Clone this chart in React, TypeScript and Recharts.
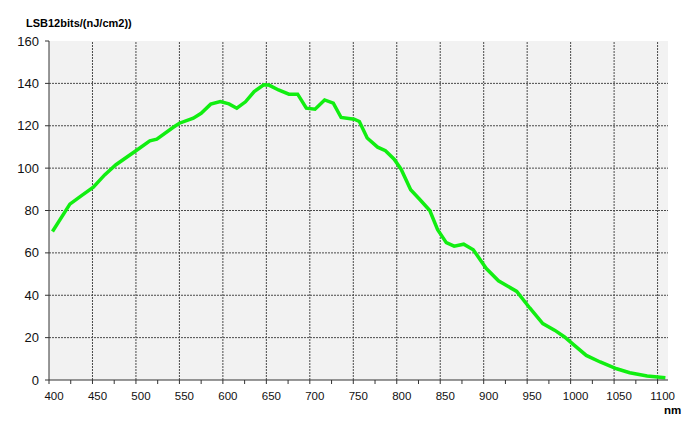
import { LineChart, Line, XAxis, YAxis, CartesianGrid, ReferenceLine } from 'recharts'

// wavelength (nm) and responsivity (LSB12bits/(nJ/cm2))
const wavelengths = [
  404, 424, 437, 451, 464, 477, 500, 516, 524, 543, 550, 566, 575, 586, 597,
  607, 616, 626, 636, 647, 653, 664, 676, 686, 696, 706, 717, 727, 736, 751,
  757, 766, 778, 787, 797, 805, 816, 826, 838, 847, 857, 866, 877, 888, 903,
  917, 938, 953, 968, 982, 993, 1003, 1018, 1034, 1053, 1068, 1088, 1109,
]
const responsivity = [
  70.1, 83.0, 86.9, 91.0, 96.8, 101.6, 108.2, 112.9, 113.7, 119.3, 121.2, 123.6, 125.9, 130.2, 131.4,
  130.3, 128.3, 131.3, 136.1, 139.3, 139.2, 136.9, 134.9, 134.9, 128.3, 127.8, 132.2, 130.7, 123.9, 123.1,
  122.0, 114.2, 109.9, 108.2, 104.2, 99.5, 89.8, 85.4, 80.0, 70.9, 64.8, 63.2, 64.1, 61.5, 52.6,
  46.8, 41.8, 34.0, 26.6, 23.4, 20.3, 16.8, 11.6, 8.5, 5.3, 3.4, 1.9, 1.1,
]

const xTicks = [
  400, 425, 450, 475, 500, 525, 550, 575, 600, 625, 650, 675, 700, 725, 750,
  775, 800, 825, 850, 875, 900, 925, 950, 975, 1000, 1025, 1050, 1075, 1100,
]
const yTicks = [0, 20, 40, 60, 80, 100, 120, 140, 160]
const xGrid = [450, 500, 550, 600, 650, 700, 750, 800, 850, 900, 950, 1000, 1050, 1100]
const yGrid = [20, 40, 60, 80, 100, 120, 140]

const data = wavelengths.map((nm, i) => ({ nm, value: responsivity[i] }))

const axisColor = '#333333'
const gridColor = '#4a4a4a'
const font = '"Liberation Sans", Arial, sans-serif'

export default function App() {
  return (
    <div style={{ position: 'relative', width: 690, height: 428, background: '#fff' }}>
      <style>{'body{margin:0}'}</style>
      <div
        style={{
          position: 'absolute',
          left: 26,
          top: 16,
          fontFamily: font,
          fontWeight: 'bold',
          fontSize: 11,
          color: '#000',
          lineHeight: '14px',
          whiteSpace: 'nowrap',
        }}
      >
        LSB12bits/(nJ/cm2))
      </div>
      <div
        style={{
          position: 'absolute',
          left: 664,
          top: 405,
          fontFamily: font,
          fontWeight: 'bold',
          fontSize: 11.5,
          color: '#000',
          lineHeight: '10px',
        }}
      >
        nm
      </div>
      <LineChart
        width={690}
        height={428}
        data={data}
        margin={{ top: 41, right: 22, bottom: 18, left: 0 }}
      >
        <CartesianGrid horizontal={false} vertical={false} fill="#f2f2f2" />
        {xGrid.map((v) => (
          <ReferenceLine key={'x' + v} x={v} stroke={gridColor} strokeDasharray="2 1" />
        ))}
        {yGrid.map((v) => (
          <ReferenceLine key={'y' + v} y={v} stroke={gridColor} strokeDasharray="2 1" />
        ))}
        <XAxis
          type="number"
          dataKey="nm"
          domain={[400, 1112]}
          ticks={xTicks}
          interval={0}
          allowDataOverflow
          height={30}
          tickSize={4}
          tickMargin={8}
          tickFormatter={(v: number) => (v % 50 === 0 ? String(v) : '')}
          stroke={axisColor}
          tick={{ fill: '#111', fontSize: 11.5, fontFamily: font, dx: 5 }}
        />
        <YAxis
          type="number"
          domain={[0, 160]}
          ticks={yTicks}
          interval={0}
          width={49}
          tickSize={4}
          tickMargin={6}
          stroke={axisColor}
          tick={{ fill: '#111', fontSize: 13, fontFamily: font }}
        />
        <Line
          type="linear"
          dataKey="value"
          stroke="#11ee11"
          strokeWidth={3.5}
          dot={false}
          isAnimationActive={false}
        />
      </LineChart>
    </div>
  )
}
